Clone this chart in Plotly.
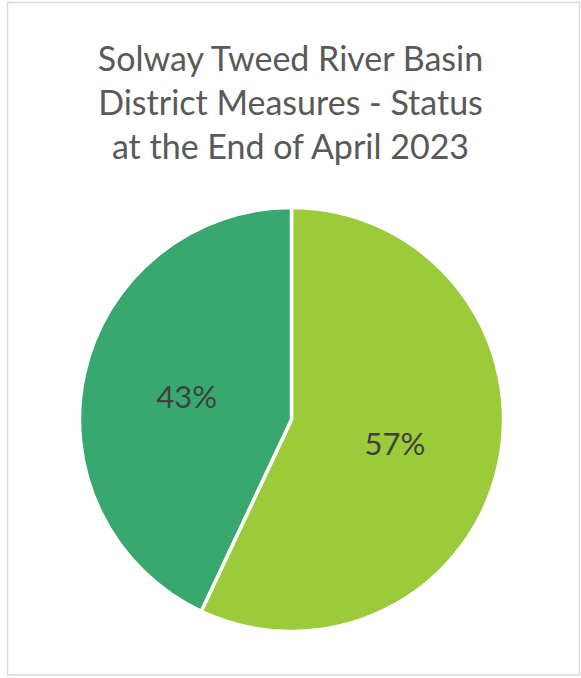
import plotly.graph_objects as go

W, H = 581, 678
labels = ["Complete", "Ongoing"]
values = [57, 43]
colors = ["#9BCB3B", "#38A86F"]
title_lines = ["Solway Tweed River Basin", "District Measures - Status", "at the End of April 2023"]

cx, cy, r = 291.5, 419.5, 212
fig = go.Figure(go.Pie(
    labels=labels, values=values, sort=False, direction="clockwise", rotation=0,
    marker=dict(colors=colors, line=dict(color="white", width=3.5)),
    textinfo="percent", textposition="inside", insidetextorientation="horizontal",
    textfont=dict(family="Lato, Open Sans, sans-serif", size=31, color="#404040"),
    hoverinfo="label+percent", showlegend=False,
    domain=dict(x=[(cx - r) / W, (cx + r) / W], y=[1 - (cy + r) / H, 1 - (cy - r) / H]),
))
fig.update_layout(
    width=W, height=H, margin=dict(l=0, r=0, t=0, b=0),
    paper_bgcolor="white", plot_bgcolor="white",
    title=dict(text="<br>".join(title_lines), x=0.5, xanchor="center",
               y=1 - 71 / H, yanchor="top", yref="container",
               font=dict(family="Lato, Open Sans, sans-serif", size=34, color="#595959")),
    shapes=[dict(type="rect", xref="paper", yref="paper",
                 x0=7.5 / W, x1=579.5 / W, y0=1 - 675 / H, y1=1 - 2.5 / H,
                 line=dict(color="#D9D9D9", width=1.5), fillcolor="rgba(0,0,0,0)", layer="below")],
)
fig.write_html("out.html", config={"displayModeBar": False},
               post_script="document.body.style.margin='0';document.body.style.overflow='hidden';")
